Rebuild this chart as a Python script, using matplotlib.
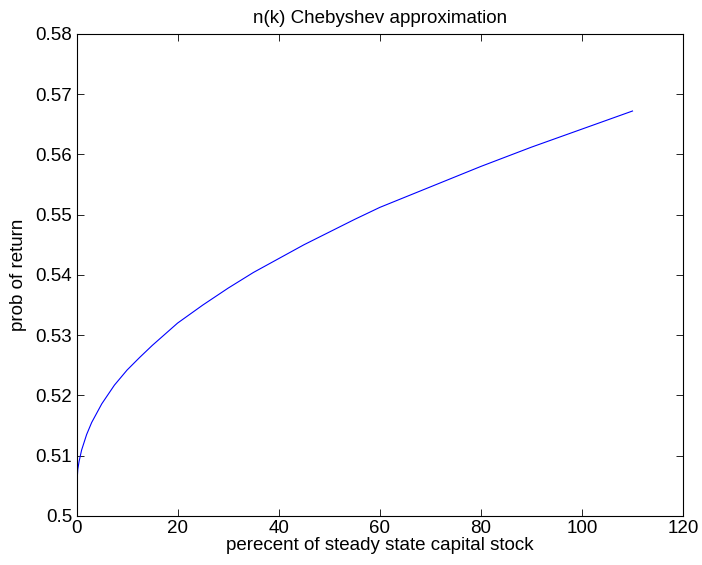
import matplotlib
matplotlib.use("Agg")
import matplotlib.pyplot as plt

# values
capital_pct = [0, 0.25, 0.5, 1, 2, 3, 5, 7.5, 10, 12.5, 15, 20, 25, 30, 35, 40,
               45, 50, 55, 60, 65, 70, 75, 80, 85, 90, 95, 100, 105, 110]
prob_return = [0.5043, 0.5077, 0.5090, 0.5109, 0.5135, 0.5155, 0.5186, 0.5217,
               0.5242, 0.5263, 0.5283, 0.5320, 0.5350, 0.5378, 0.5404, 0.5427,
               0.5450, 0.5471, 0.5492, 0.5512, 0.5529, 0.5546, 0.5563, 0.5580,
               0.5596, 0.5612, 0.5627, 0.5642, 0.5657, 0.5672]

xticks = [0, 20, 40, 60, 80, 100, 120]
yticks = [0.5, 0.51, 0.52, 0.53, 0.54, 0.55, 0.56, 0.57, 0.58]

plt.rcParams['font.family'] = ['Liberation Sans', 'DejaVu Sans']

fig = plt.figure(figsize=(7.02, 5.65), dpi=100)
ax = fig.add_axes([0.109, 0.087, 0.864, 0.853])
ax.plot(capital_pct, prob_return, color='#0000ff', linewidth=0.8)

ax.set_xlim(0, 120)
ax.set_ylim(0.5, 0.58)
ax.set_xticks(xticks)
ax.set_xticklabels([str(t) for t in xticks])
ax.set_yticks(yticks)
ax.set_yticklabels(['0.5'] + ['%.2f' % t for t in yticks[1:]])
ax.tick_params(direction='in', top=True, right=True, length=5, width=0.6,
               labelsize=13.5, pad=3)
for s in ax.spines.values():
    s.set_linewidth(0.8)

ax.set_title('n(k) Chebyshev approximation', fontsize=13.5, pad=8)
ax.set_xlabel('perecent of steady state capital stock', fontsize=13.5, labelpad=0)
ax.set_ylabel('prob of return', fontsize=13.5, labelpad=6)

fig.savefig('out.png', dpi=100)
